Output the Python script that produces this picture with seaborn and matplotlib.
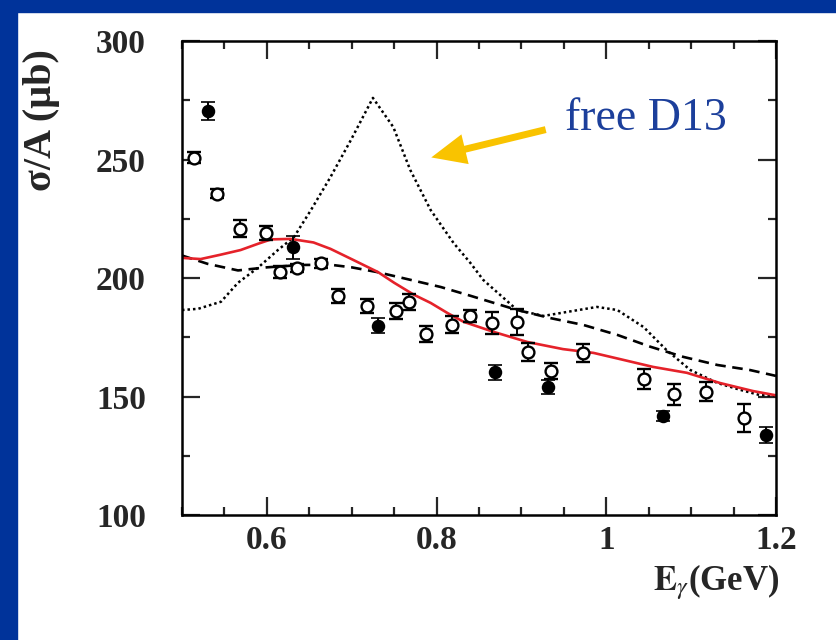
import numpy as np
import matplotlib
matplotlib.use("Agg")
import matplotlib.pyplot as plt
from matplotlib.patches import Rectangle
from matplotlib.ticker import MultipleLocator
import seaborn as sns

# data
open_x = [0.514, 0.541, 0.568, 0.599, 0.615, 0.635, 0.664, 0.684, 0.718, 0.752, 0.767, 0.788,
          0.818, 0.839, 0.865, 0.895, 0.908, 0.935, 0.973, 1.044, 1.080, 1.118, 1.162]
open_y = [250.8, 235.5, 220.8, 219.0, 202.5, 204.2, 206.3, 192.4, 188.2, 186.0, 189.9, 176.4,
          180.2, 184.0, 181.0, 181.4, 168.8, 160.8, 168.4, 157.4, 151.0, 152.0, 141.0]
open_err = [2.2, 1.9, 3.5, 3.0, 2.5, 1.6, 1.9, 3.0, 2.8, 3.5, 3.3, 3.5,
            3.6, 2.4, 4.6, 5.4, 3.7, 3.4, 3.7, 4.1, 4.4, 4.1, 5.8]

full_x = [0.531, 0.631, 0.731, 0.869, 0.931, 1.067, 1.188]
full_y = [270.5, 213.0, 179.8, 160.3, 154.0, 141.8, 133.8]
full_err = [3.9, 4.8, 3.2, 3.2, 3.0, 2.2, 3.4]

red_x = [0.50, 0.522, 0.545, 0.569, 0.590, 0.605, 0.628, 0.655, 0.675, 0.702, 0.731, 0.750, 0.773,
         0.793, 0.813, 0.832, 0.867, 0.907, 0.949, 0.985, 1.016, 1.055, 1.095, 1.134, 1.173, 1.20]
red_y = [208.5, 208.0, 209.8, 211.8, 214.5, 216.3, 216.5, 215.0, 212.3, 207.6, 202.5, 198.0, 193.0,
         189.5, 185.2, 181.5, 177.3, 173.0, 170.0, 168.4, 165.8, 162.5, 160.0, 155.7, 152.3, 150.5]

dash_x = [0.50, 0.53, 0.566, 0.60, 0.64, 0.675, 0.70, 0.73, 0.766, 0.805, 0.84, 0.895, 0.934,
          0.973, 1.013, 1.052, 1.091, 1.131, 1.169, 1.20]
dash_y = [209.5, 206.0, 203.2, 204.5, 205.5, 205.6, 204.5, 202.5, 199.5, 196.2, 192.5, 186.5, 183.1,
          180.2, 176.0, 171.0, 166.7, 163.3, 161.2, 158.7]

dot_x = [0.50, 0.519, 0.546, 0.566, 0.589, 0.613, 0.632, 0.652, 0.675, 0.699, 0.725, 0.749, 0.769,
         0.793, 0.82, 0.84, 0.855, 0.895, 0.926, 0.954, 0.989, 1.013, 1.044, 1.071, 1.099, 1.131,
         1.158, 1.181, 1.20]
dot_y = [186.5, 187.0, 190.0, 198.0, 204.2, 211.8, 217.3, 228.7, 242.6, 258.2, 276.0, 263.7, 245.6,
         228.7, 214.8, 206.3, 199.2, 186.5, 184.0, 185.7, 187.8, 186.5, 179.3, 169.6, 161.2, 155.7,
         152.8, 150.6, 150.2]

x_ticks = [0.6, 0.8, 1.0, 1.2]
x_tick_labels = ["0.6", "0.8", "1", "1.2"]
y_ticks = [100, 150, 200, 250, 300]

sns.set_style("ticks")
plt.rcParams['font.family'] = ['Liberation Serif', 'DejaVu Serif']
plt.rcParams['mathtext.fontset'] = 'stix'

fig = plt.figure(figsize=(8.36, 6.4), dpi=100)
ax = fig.add_axes([0.2177, 0.1953, 0.7105, 0.7406])

# blue slide frame
fig.patches.append(Rectangle((0, 0), 17 / 836, 1, transform=fig.transFigure,
                             color="#00339a", zorder=-1))
fig.patches.append(Rectangle((0, 1 - 12 / 640), 1, 12 / 640, transform=fig.transFigure,
                             color="#00339a", zorder=-1))

sns.lineplot(x=dot_x, y=dot_y, ax=ax, color="black", lw=1.8, linestyle=(0, (1, 1.2)), sort=False)
sns.lineplot(x=dash_x, y=dash_y, ax=ax, color="black", lw=1.9, linestyle=(0, (4, 2.5)), sort=False)
sns.lineplot(x=red_x, y=red_y, ax=ax, color="#e5222a", lw=1.9, sort=False)

ax.errorbar(open_x, open_y, yerr=open_err, fmt="o", ms=8.5, mfc="white", mec="black", mew=1.7,
            ecolor="black", elinewidth=1.4, capsize=5, capthick=1.4, zorder=5)
ax.errorbar(full_x, full_y, yerr=full_err, fmt="o", ms=8.5, mfc="black", mec="black", mew=1.2,
            ecolor="black", elinewidth=1.4, capsize=5, capthick=1.4, zorder=5)

ax.set_xlim(0.5, 1.2)
ax.set_ylim(100, 300)
ax.set_xticks(x_ticks)
ax.set_xticklabels(x_tick_labels)
ax.set_yticks(y_ticks)
ax.xaxis.set_minor_locator(MultipleLocator(0.05))
ax.yaxis.set_minor_locator(MultipleLocator(25))
ax.tick_params(which="both", direction="in", top=True, right=True, width=1.6)
ax.tick_params(which="major", length=13, labelsize=24, pad=7)
ax.tick_params(which="minor", length=6)
ax.tick_params(axis="y", which="major", pad=26)
for lab in ax.get_xticklabels() + ax.get_yticklabels():
    lab.set_fontweight("bold")
for sp in ax.spines.values():
    sp.set_linewidth(1.8)
    sp.set_color("black")
ax.set_xlabel("")
ax.set_ylabel("")

fig.text(42 / 836, 1 - 120 / 640, "σ/A (μb)", rotation=90, ha="center", va="center",
         fontsize=29, fontweight="bold")
fig.text(716 / 836, 1 - 582 / 640, r"$\mathbf{E}_{\gamma}$(GeV)", ha="center", va="center",
         fontsize=25, fontweight="bold")

# annotation arrow and label
ax.annotate("", xy=(0.7906, 250.6), xytext=(0.9318, 262.9),
            arrowprops=dict(arrowstyle="simple,head_length=2.5,head_width=2.2,tail_width=0.5",
                            mutation_scale=10, color="#f9c300", lw=0))
fig.text(565 / 836, 1 - 130 / 640, "free D13", ha="left", va="baseline",
         fontsize=33, color="#1c3f9b")

fig.savefig("out.png", dpi=100)
